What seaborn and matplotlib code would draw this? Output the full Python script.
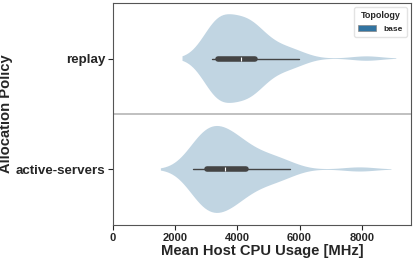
import matplotlib
matplotlib.use("Agg")
import matplotlib.pyplot as plt
import pandas as pd
import seaborn as sns
from matplotlib.collections import PolyCollection
from matplotlib.patches import Patch

replay = [3190, 3220, 3250, 3280, 3300, 3320, 3340, 3350, 3360, 3370,
          3390, 3450, 3520, 3600, 3680, 3750, 3850, 3950, 4050, 4100,
          4160, 4200, 4250, 4300, 4350, 4400, 4450, 4500, 4530, 4550,
          4590, 4700, 4850, 5000, 5200, 5400, 5600, 5800, 5980, 8160]
active_servers = [2560, 2650, 2720, 2780, 2830, 2870, 2910, 2950, 2980, 3000,
                  3040, 3100, 3180, 3250, 3320, 3390, 3450, 3500, 3550, 3580,
                  3620, 3680, 3740, 3800, 3870, 3940, 4010, 4090, 4170, 4240,
                  4360, 4500, 4650, 4800, 4950, 5100, 5300, 5500, 5690, 7940]
policies = ["replay", "active-servers"]
topologies = ["base"]

df = pd.DataFrame({
    "Allocation Policy": ["replay"] * len(replay) + ["active-servers"] * len(active_servers),
    "Mean Host CPU Usage [MHz]": replay + active_servers,
    "Topology": "base",
})

sns.set_style("ticks")
plt.rcParams["font.family"] = ["Liberation Sans", "DejaVu Sans"]
plt.rcParams["font.weight"] = "bold"

fig, ax = plt.subplots(figsize=(4.15, 2.6), dpi=100)
fig.subplots_adjust(left=0.272, right=0.990, bottom=0.135, top=0.988)

palette = sns.color_palette("tab10", 1)
sns.violinplot(data=df, x="Mean Host CPU Usage [MHz]", y="Allocation Policy",
               hue="Topology", order=policies, hue_order=topologies,
               palette=palette, inner="box", legend=False, ax=ax,
               inner_kws=dict(box_width=4, whis_width=1, color="#444444"))

for c in ax.collections:
    if isinstance(c, PolyCollection):
        c.set_alpha(0.3)
        c.set_edgecolor("none")

ax.axhline(0.5, color="#b5b5b5", lw=1.2)
ax.set_xlim(0, 9580)
ax.set_xticks([0, 2000, 4000, 6000, 8000])
ax.tick_params(axis="x", labelsize=8, pad=2)
ax.tick_params(axis="y", labelsize=9.6, pad=2)
ax.set_xlabel("Mean Host CPU Usage [MHz]", fontsize=10.6, fontweight="bold", labelpad=1)
ax.set_ylabel("Allocation Policy", fontsize=10.6, fontweight="bold")
ax.yaxis.set_label_coords(-0.334, 0.5)
for s in ax.spines.values():
    s.set_color("#555555")

desat = sns.desaturate(palette[0], 0.75)
handles = [Patch(facecolor=desat, edgecolor="#888888", lw=0.5)]
leg = ax.legend(handles, topologies, title="Topology", loc="upper right",
                fontsize=6, title_fontsize=6.5, frameon=True,
                handlelength=2.2, handleheight=0.8, borderpad=0.5)
leg.get_frame().set_edgecolor("#dddddd")

fig.savefig("out.png", dpi=100)
